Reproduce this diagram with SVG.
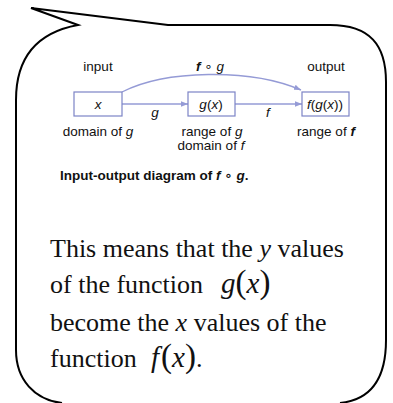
<svg xmlns="http://www.w3.org/2000/svg" width="393" height="403" viewBox="0 0 393 403">
<style>
.lbl{font-family:"Liberation Sans","DejaVu Sans",sans-serif;font-size:13.5px;fill:#111;text-anchor:middle}
.it{font-style:italic}
.box{fill:#fff;stroke:#7c84c6;stroke-width:1.2}
.conn{fill:none;stroke:#959bd6;stroke-width:1.4}
.cap{font-family:"Liberation Sans","DejaVu Sans",sans-serif;font-size:13.5px;font-weight:bold;fill:#111}
.body{font-family:"Liberation Serif","Times New Roman",serif;font-size:26px;fill:#111}
.math{font-family:"Liberation Serif","Times New Roman",serif;font-style:italic;font-size:29px}
.par{font-family:"Liberation Serif","Times New Roman",serif;font-size:33px;font-style:normal}
</style>
<defs>
<marker id="ah" viewBox="0 0 10 10" refX="10" refY="5" markerWidth="7" markerHeight="7" markerUnits="userSpaceOnUse" orient="auto">
<path d="M0,1 L10,5 L0,9 Z" fill="#959bd6"/>
</marker>
</defs>
<g id="bubble">
<path d="M62,403 C35,400 16,380 16,350 L16,100 C16,55 40,32 78,25 L31,8 L168,25 L330,25 C370,25 386,45 386,82 L386,340 C386,380 370,400 340,403" fill="#fff" stroke="#000" stroke-width="2" stroke-linejoin="miter"/>
</g>
<g id="connectors">
<path class="conn" d="M122,92 C165,70 250,68 301,90" marker-end="url(#ah)"/>
<line class="conn" x1="122" y1="104" x2="188" y2="104" marker-end="url(#ah)"/>
<line class="conn" x1="235" y1="104" x2="302" y2="104" marker-end="url(#ah)"/>
<text class="lbl it" x="155" y="117">g</text>
<text class="lbl it" x="268" y="117">f</text>
<text class="lbl" x="210" y="71"><tspan class="it" font-weight="bold">f</tspan> ∘ <tspan class="it">g</tspan></text>
</g>
<g id="node-x">
<rect class="box" x="74" y="92" width="48" height="24"/>
<text class="lbl it" x="98" y="109">x</text>
<text class="lbl" x="98" y="71">input</text>
<text class="lbl" x="98" y="136">domain of <tspan class="it">g</tspan></text>
</g>
<g id="node-gx">
<rect class="box" x="188" y="92" width="47" height="24"/>
<text class="lbl" x="211" y="109"><tspan class="it">g</tspan>(<tspan class="it">x</tspan>)</text>
<text class="lbl" x="212" y="136">range of <tspan class="it">g</tspan></text>
<text class="lbl" x="211" y="150">domain of <tspan class="it">f</tspan></text>
</g>
<g id="node-fgx">
<rect class="box" x="302" y="92" width="47" height="24"/>
<text class="lbl" x="325" y="109"><tspan class="it">f</tspan>(<tspan class="it">g</tspan>(<tspan class="it">x</tspan>))</text>
<text class="lbl" x="326" y="71">output</text>
<text class="lbl" x="326" y="136">range of <tspan class="it" font-weight="bold">f</tspan></text>
</g>
<text class="cap" x="60" y="180">Input-output diagram of <tspan font-style="italic">f</tspan> ∘ <tspan font-style="italic">g</tspan>.</text>
<g id="text-body">
<text class="body" x="50" y="257">This means that the <tspan font-style="italic">y</tspan> values</text>
<text class="body" x="50" y="293">of the function <tspan class="math" x="221">g</tspan><tspan class="par">(</tspan><tspan class="math">x</tspan><tspan class="par">)</tspan></text>
<text class="body" x="50" y="331">become the <tspan font-style="italic">x</tspan> values of the</text>
<text class="body" x="50" y="367">function <tspan class="math" x="151">f</tspan><tspan class="par" dx="2">(</tspan><tspan class="math">x</tspan><tspan class="par">)</tspan>.</text>
</g>
</svg>
